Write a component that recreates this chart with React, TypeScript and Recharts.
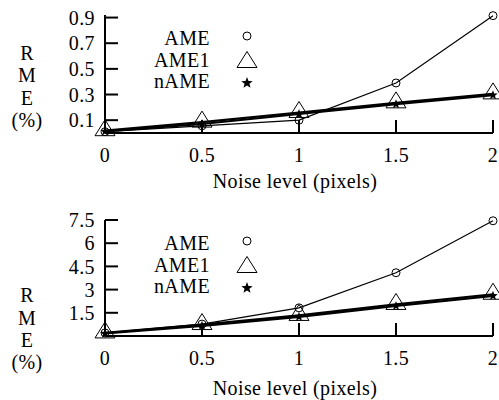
import React from 'react';
import { LineChart, Line, XAxis, YAxis, Label } from 'recharts';

const noiseLevels = [0, 0.5, 1, 1.5, 2];
const xTicks = [0, 0.5, 1, 1.5, 2];
const xTicksMirror = [0.5, 1, 1.5];

// upper panel
const ameTop = [0.01, 0.056, 0.1, 0.39, 0.915];
const ame1Top = [0.018, 0.085, 0.16, 0.235, 0.305];
const nameTop = [0.012, 0.07, 0.148, 0.225, 0.295];
const yTicksTop = [0.1, 0.3, 0.5, 0.7, 0.9];

// lower panel
const ameBottom = [0.2, 0.77, 1.82, 4.09, 7.45];
const ame1Bottom = [0.2, 0.74, 1.33, 2.04, 2.7];
const nameBottom = [0.16, 0.66, 1.24, 1.94, 2.6];
const yTicksBottom = [1.5, 3, 4.5, 6, 7.5];

const legendNames = ['AME', 'AME1', 'nAME'];
const yLabelLines = ['R', 'M', 'E', '(%)'];

const FONT = 'Liberation Serif, DejaVu Serif, serif';
const FS = 20;
const textStyle = { fontFamily: FONT, fontSize: FS, letterSpacing: 0.4 };
const tickStyle = { fill: '#000', fontSize: FS, fontFamily: FONT, style: textStyle };

const starPath = (cx: number, cy: number, r: number) => {
  let d = '';
  for (let i = 0; i < 10; i++) {
    const rr = i % 2 === 0 ? r : r * 0.42;
    const a = -Math.PI / 2 + (i * Math.PI) / 5;
    d += (i === 0 ? 'M' : 'L') + (cx + rr * Math.cos(a)).toFixed(2) + ',' + (cy + rr * Math.sin(a)).toFixed(2);
  }
  return d + 'Z';
};

const triPath = (cx: number, cy: number) =>
  `M${cx},${cy - 8}L${cx + 10},${cy + 8}L${cx - 10},${cy + 8}Z`;

const CircleDot = (p: any) => (
  <circle key={p.key} cx={p.cx} cy={p.cy} r={4} fill="none" stroke="#000" strokeWidth={1} />
);
const TriangleDot = (p: any) => (
  <path key={p.key} d={triPath(p.cx, p.cy - 3)} fill="none" stroke="#000" strokeWidth={1} />
);
const StarDot = (p: any) => <path key={p.key} d={starPath(p.cx, p.cy, 5)} fill="#000" />;

interface PanelProps {
  ame: number[];
  ame1: number[];
  nAme: number[];
  yTicks: number[];
  yMax: number;
  top: number;
  xAxisHeight: number;
  xLabelDy: number;
  yLabelDy: number[];
}

function Panel({ ame, ame1, nAme, yTicks, yMax, top, xAxisHeight, xLabelDy, yLabelDy }: PanelProps) {
  const data = noiseLevels.map((x, i) => ({ x, ame: ame[i], ame1: ame1[i], name: nAme[i] }));
  const plotTop = top;

  return (
    <div style={{ position: 'relative', width: 499, height: 200 }}>
      <LineChart width={499} height={200} data={data} margin={{ top, right: 6, bottom: 0, left: 0 }}>
        <XAxis
          dataKey="x"
          type="number"
          domain={[0, 2]}
          ticks={xTicks}
          interval={0}
          height={xAxisHeight}
          tickSize={-13}
          tickMargin={28}
          tick={tickStyle}
          axisLine={{ stroke: '#000', strokeWidth: 2 }}
          tickLine={{ stroke: '#000', strokeWidth: 2 }}
        >
          <Label
            content={(props: any) => {
              const vb = props.viewBox;
              return (
                <text x={vb.x + vb.width / 2 - 4} y={vb.y + xLabelDy} textAnchor="middle" style={textStyle} fill="#000">
                  Noise level (pixels)
                </text>
              );
            }}
          />
        </XAxis>
        <XAxis
          xAxisId="m"
          orientation="top"
          dataKey="x"
          type="number"
          domain={[0, 2]}
          ticks={xTicksMirror}
          interval={0}
          height={0}
          tickSize={-13}
          tickFormatter={() => ''}
          axisLine={{ stroke: '#000', strokeWidth: 2 }}
          tickLine={{ stroke: '#000', strokeWidth: 2 }}
        />
        <YAxis
          type="number"
          domain={[0, yMax]}
          ticks={yTicks}
          interval={0}
          width={105}
          tickSize={-13}
          tickMargin={23}
          tick={tickStyle}
          axisLine={{ stroke: '#000', strokeWidth: 2 }}
          tickLine={{ stroke: '#000', strokeWidth: 2 }}
        >
          <Label
            content={(props: any) => {
              const vb = props.viewBox;
              return (
                <g>
                  {yLabelLines.map((s, i) => (
                    <text key={s} x={27} y={vb.y + yLabelDy[i]} textAnchor="middle" style={textStyle} fill="#000">
                      {s}
                    </text>
                  ))}
                </g>
              );
            }}
          />
        </YAxis>
        <YAxis
          yAxisId="m"
          orientation="right"
          type="number"
          domain={[0, yMax]}
          ticks={yTicks}
          interval={0}
          width={0}
          tickSize={-13}
          tickFormatter={() => ''}
          axisLine={{ stroke: '#000', strokeWidth: 2 }}
          tickLine={{ stroke: '#000', strokeWidth: 2 }}
        />
        <Line type="linear" dataKey="ame" stroke="#000" strokeWidth={1.2} dot={CircleDot} isAnimationActive={false} />
        <Line type="linear" dataKey="ame1" stroke="#000" strokeWidth={2.2} dot={TriangleDot} isAnimationActive={false} />
        <Line type="linear" dataKey="name" stroke="#000" strokeWidth={2.2} dot={StarDot} isAnimationActive={false} />
      </LineChart>
      <svg width={499} height={200} style={{ position: 'absolute', left: 0, top: 0, pointerEvents: 'none' }}>
        {legendNames.map((n, i) => {
          const base = plotTop + 30 + i * 21.5;
          const cy = base - 7;
          return (
            <g key={n}>
              <text x={210} y={base} textAnchor="end" style={textStyle} fill="#000">
                {n}
              </text>
              {i === 0 && <circle cx={247} cy={cy - 2} r={4} fill="none" stroke="#000" />}
              {i === 1 && <path d={triPath(247, cy)} fill="none" stroke="#000" />}
              {i === 2 && <path d={starPath(247, cy + 2, 6)} fill="#000" />}
            </g>
          );
        })}
      </svg>
    </div>
  );
}

export default function App() {
  return (
    <div style={{ position: 'absolute', left: 0, top: 0, width: 499, height: 400, background: '#fff' }}>
      <Panel
        ame={ameTop}
        ame1={ame1Top}
        nAme={nameTop}
        yTicks={yTicksTop}
        yMax={0.92}
        top={15}
        xAxisHeight={67}
        xLabelDy={55}
        yLabelDy={[45, 67, 89.5, 111.5]}
      />
      <Panel
        ame={ameBottom}
        ame1={ame1Bottom}
        nAme={nameBottom}
        yTicks={yTicksBottom}
        yMax={7.5}
        top={20}
        xAxisHeight={64}
        xLabelDy={59}
        yLabelDy={[81.5, 105, 127, 149]}
      />
    </div>
  );
}
